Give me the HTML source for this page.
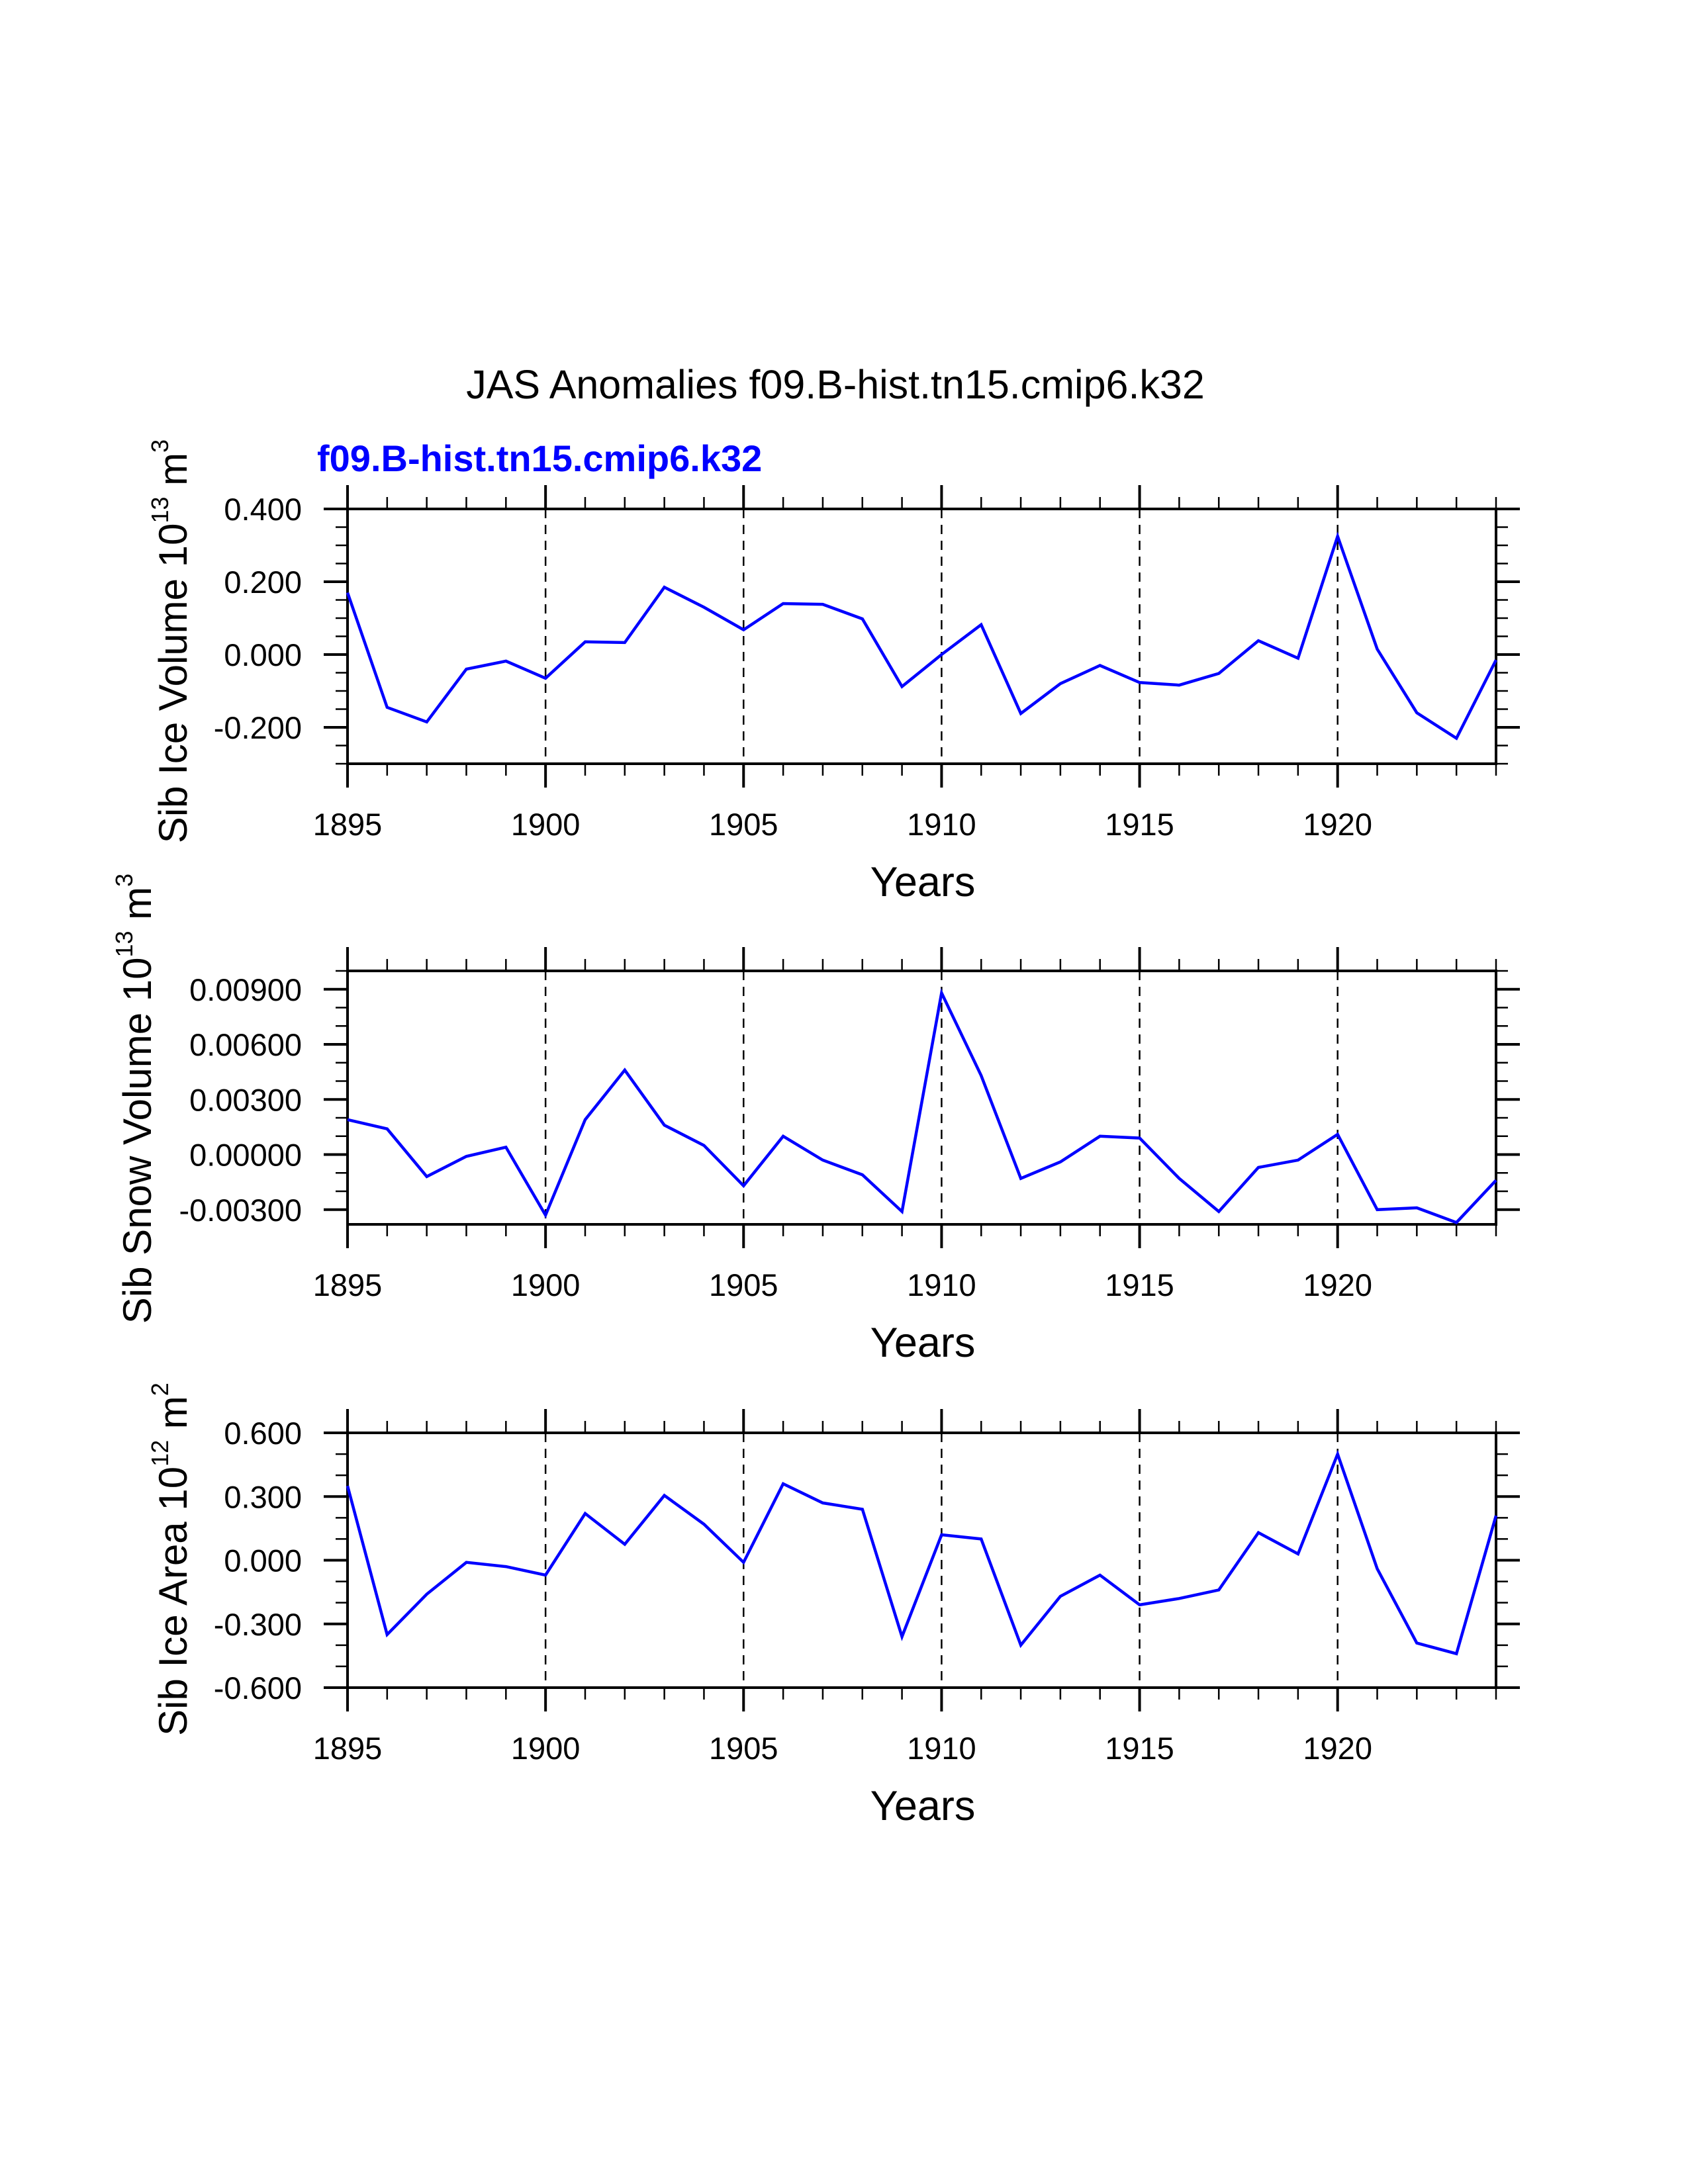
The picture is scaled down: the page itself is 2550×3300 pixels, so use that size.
<!DOCTYPE html>
<html><head><meta charset="utf-8"><style>
html,body{margin:0;padding:0;background:#fff}
svg{display:block;font-family:"Liberation Sans",sans-serif}
</style></head><body>
<svg id="c" width="2550" height="3300" xmlns="http://www.w3.org/2000/svg">
<text x="1262" y="602" font-size="61" text-anchor="middle">JAS Anomalies f09.B-hist.tn15.cmip6.k32</text>
<text x="479" y="712" font-size="56" font-weight="bold" fill="#0000ff">f09.B-hist.tn15.cmip6.k32</text>
</svg>
<script>
const years=[1895,1896,1897,1898,1899,1900,1901,1902,1903,1904,1905,1906,1907,1908,1909,1910,1911,1912,1913,1914,1915,1916,1917,1918,1919,1920,1921,1922,1923,1924];
const iceVol=[0.17,-0.145,-0.185,-0.04,-0.018,-0.065,0.035,0.033,0.185,0.13,0.068,0.14,0.138,0.098,-0.088,0.0,0.082,-0.162,-0.08,-0.03,-0.077,-0.084,-0.052,0.038,-0.01,0.325,0.015,-0.16,-0.23,-0.015];
const snowVol=[0.0019,0.0014,-0.0012,-0.0001,0.0004,-0.0033,0.0019,0.0046,0.0016,0.0005,-0.0017,0.001,-0.0003,-0.0011,-0.0031,0.0088,0.0043,-0.0013,-0.0004,0.001,0.0009,-0.0013,-0.0031,-0.0007,-0.0003,0.0011,-0.0030,-0.0029,-0.0037,-0.0014];
const iceArea=[0.35,-0.35,-0.16,-0.01,-0.03,-0.07,0.22,0.075,0.305,0.17,-0.01,0.36,0.27,0.24,-0.36,0.12,0.10,-0.40,-0.17,-0.07,-0.21,-0.18,-0.14,0.13,0.03,0.50,-0.04,-0.39,-0.44,0.21];
const xTicks=[1895,1900,1905,1910,1915,1920];
const ticks1=["-0.200","0.000","0.200","0.400"];
const ticks2=["-0.00300","0.00000","0.00300","0.00600","0.00900"];
const ticks3=["-0.600","-0.300","0.000","0.300","0.600"];
const NS="http://www.w3.org/2000/svg";
const svg=document.getElementById('c');
function mk(tag,attrs,parent){const e=document.createElementNS(NS,tag);for(const k in attrs)e.setAttribute(k,attrs[k]);(parent||svg).appendChild(e);return e;}
const L=525,R=2260,X0=1895,X1=1924;
const xs=v=>L+(v-X0)/(X1-X0)*(R-L);
function panel(id,top,bot,ymin,ymax,data,ticks,minorStep,title,sup,unit,tx,ty){
  const g=mk('g',{});
  
  
  const ys=v=>bot-(v-ymin)/(ymax-ymin)*(bot-top);
  xTicks.slice(1).forEach(y=>{const l=mk('line',{x1:xs(y),x2:xs(y),y1:top,y2:bot,stroke:'#000','stroke-width':2.5,'stroke-dasharray':'14 10'},g);
    
    });
  for(let y=X0;y<=X1;y++){const major=(y%5===0);const len=major?36:18;
    mk('line',{x1:xs(y),x2:xs(y),y1:top-len,y2:top,stroke:'#000','stroke-width':major?4:2.5},g);
    mk('line',{x1:xs(y),x2:xs(y),y1:bot,y2:bot+len,stroke:'#000','stroke-width':major?4:2.5},g);}
  xTicks.forEach(y=>{const t=mk('text',{x:xs(y),y:bot+108,'font-size':47,'text-anchor':'middle'},g);t.textContent=y;
    
    });
  const start=Math.ceil(ymin/minorStep-1e-6);
  for(let k=start;k*minorStep<=ymax+1e-9;k++){const v=k*minorStep;
    mk('line',{x1:L-18,x2:L,y1:ys(v),y2:ys(v),stroke:'#000','stroke-width':2.5},g);
    mk('line',{x1:R,x2:R+18,y1:ys(v),y2:ys(v),stroke:'#000','stroke-width':2.5},g);}
  ticks.forEach(s=>{const v=parseFloat(s);
    mk('line',{x1:L-36,x2:L,y1:ys(v),y2:ys(v),stroke:'#000','stroke-width':4},g);
    mk('line',{x1:R,x2:R+36,y1:ys(v),y2:ys(v),stroke:'#000','stroke-width':4},g);
    const t=mk('text',{x:456,y:ys(v)+17,'font-size':47,'text-anchor':'end'},g);t.textContent=s;
    
    });
  const fr=mk('rect',{x:L,y:top,width:R-L,height:bot-top,fill:'none',stroke:'#000','stroke-width':4},g);
  
  
  const pts=data.map((v,i)=>xs(years[i]).toFixed(1)+','+ys(v).toFixed(1)).join(' ');
  const pl=mk('polyline',{points:pts,fill:'none',stroke:'#0000ff','stroke-width':4.5,'stroke-linejoin':'miter'},g);
  
  
  const xt=mk('text',{x:1394,y:bot+200,'font-size':63,'text-anchor':'middle'},g);xt.textContent='Years';
  
  
  const yt=mk('text',{x:tx,y:ty,'font-size':60,'text-anchor':'middle',transform:'rotate(-90 '+tx+' '+ty+')'},g);
  
  
  const a=document.createElementNS(NS,'tspan');a.textContent=title+' 10';yt.appendChild(a);
  const b=document.createElementNS(NS,'tspan');b.setAttribute('dy','-28');b.setAttribute('font-size','36');b.textContent=sup;yt.appendChild(b);
  const c=document.createElementNS(NS,'tspan');c.setAttribute('dy','28');c.textContent=' m';yt.appendChild(c);
  const d=document.createElementNS(NS,'tspan');d.setAttribute('dy','-28');d.setAttribute('font-size','36');d.textContent=unit;yt.appendChild(d);
}
panel('ice-volume',769,1154,-0.3,0.4,iceVol,ticks1,0.05,'Sib Ice Volume','13','3',282,969);
panel('snow-volume',1467,1850,-0.0038,0.01,snowVol,ticks2,0.001,'Sib Snow Volume','13','3',228,1660);
panel('ice-area',2165,2550,-0.6,0.6,iceArea,ticks3,0.1,'Sib Ice Area','12','2',282,2356);
</script>
</body></html>
